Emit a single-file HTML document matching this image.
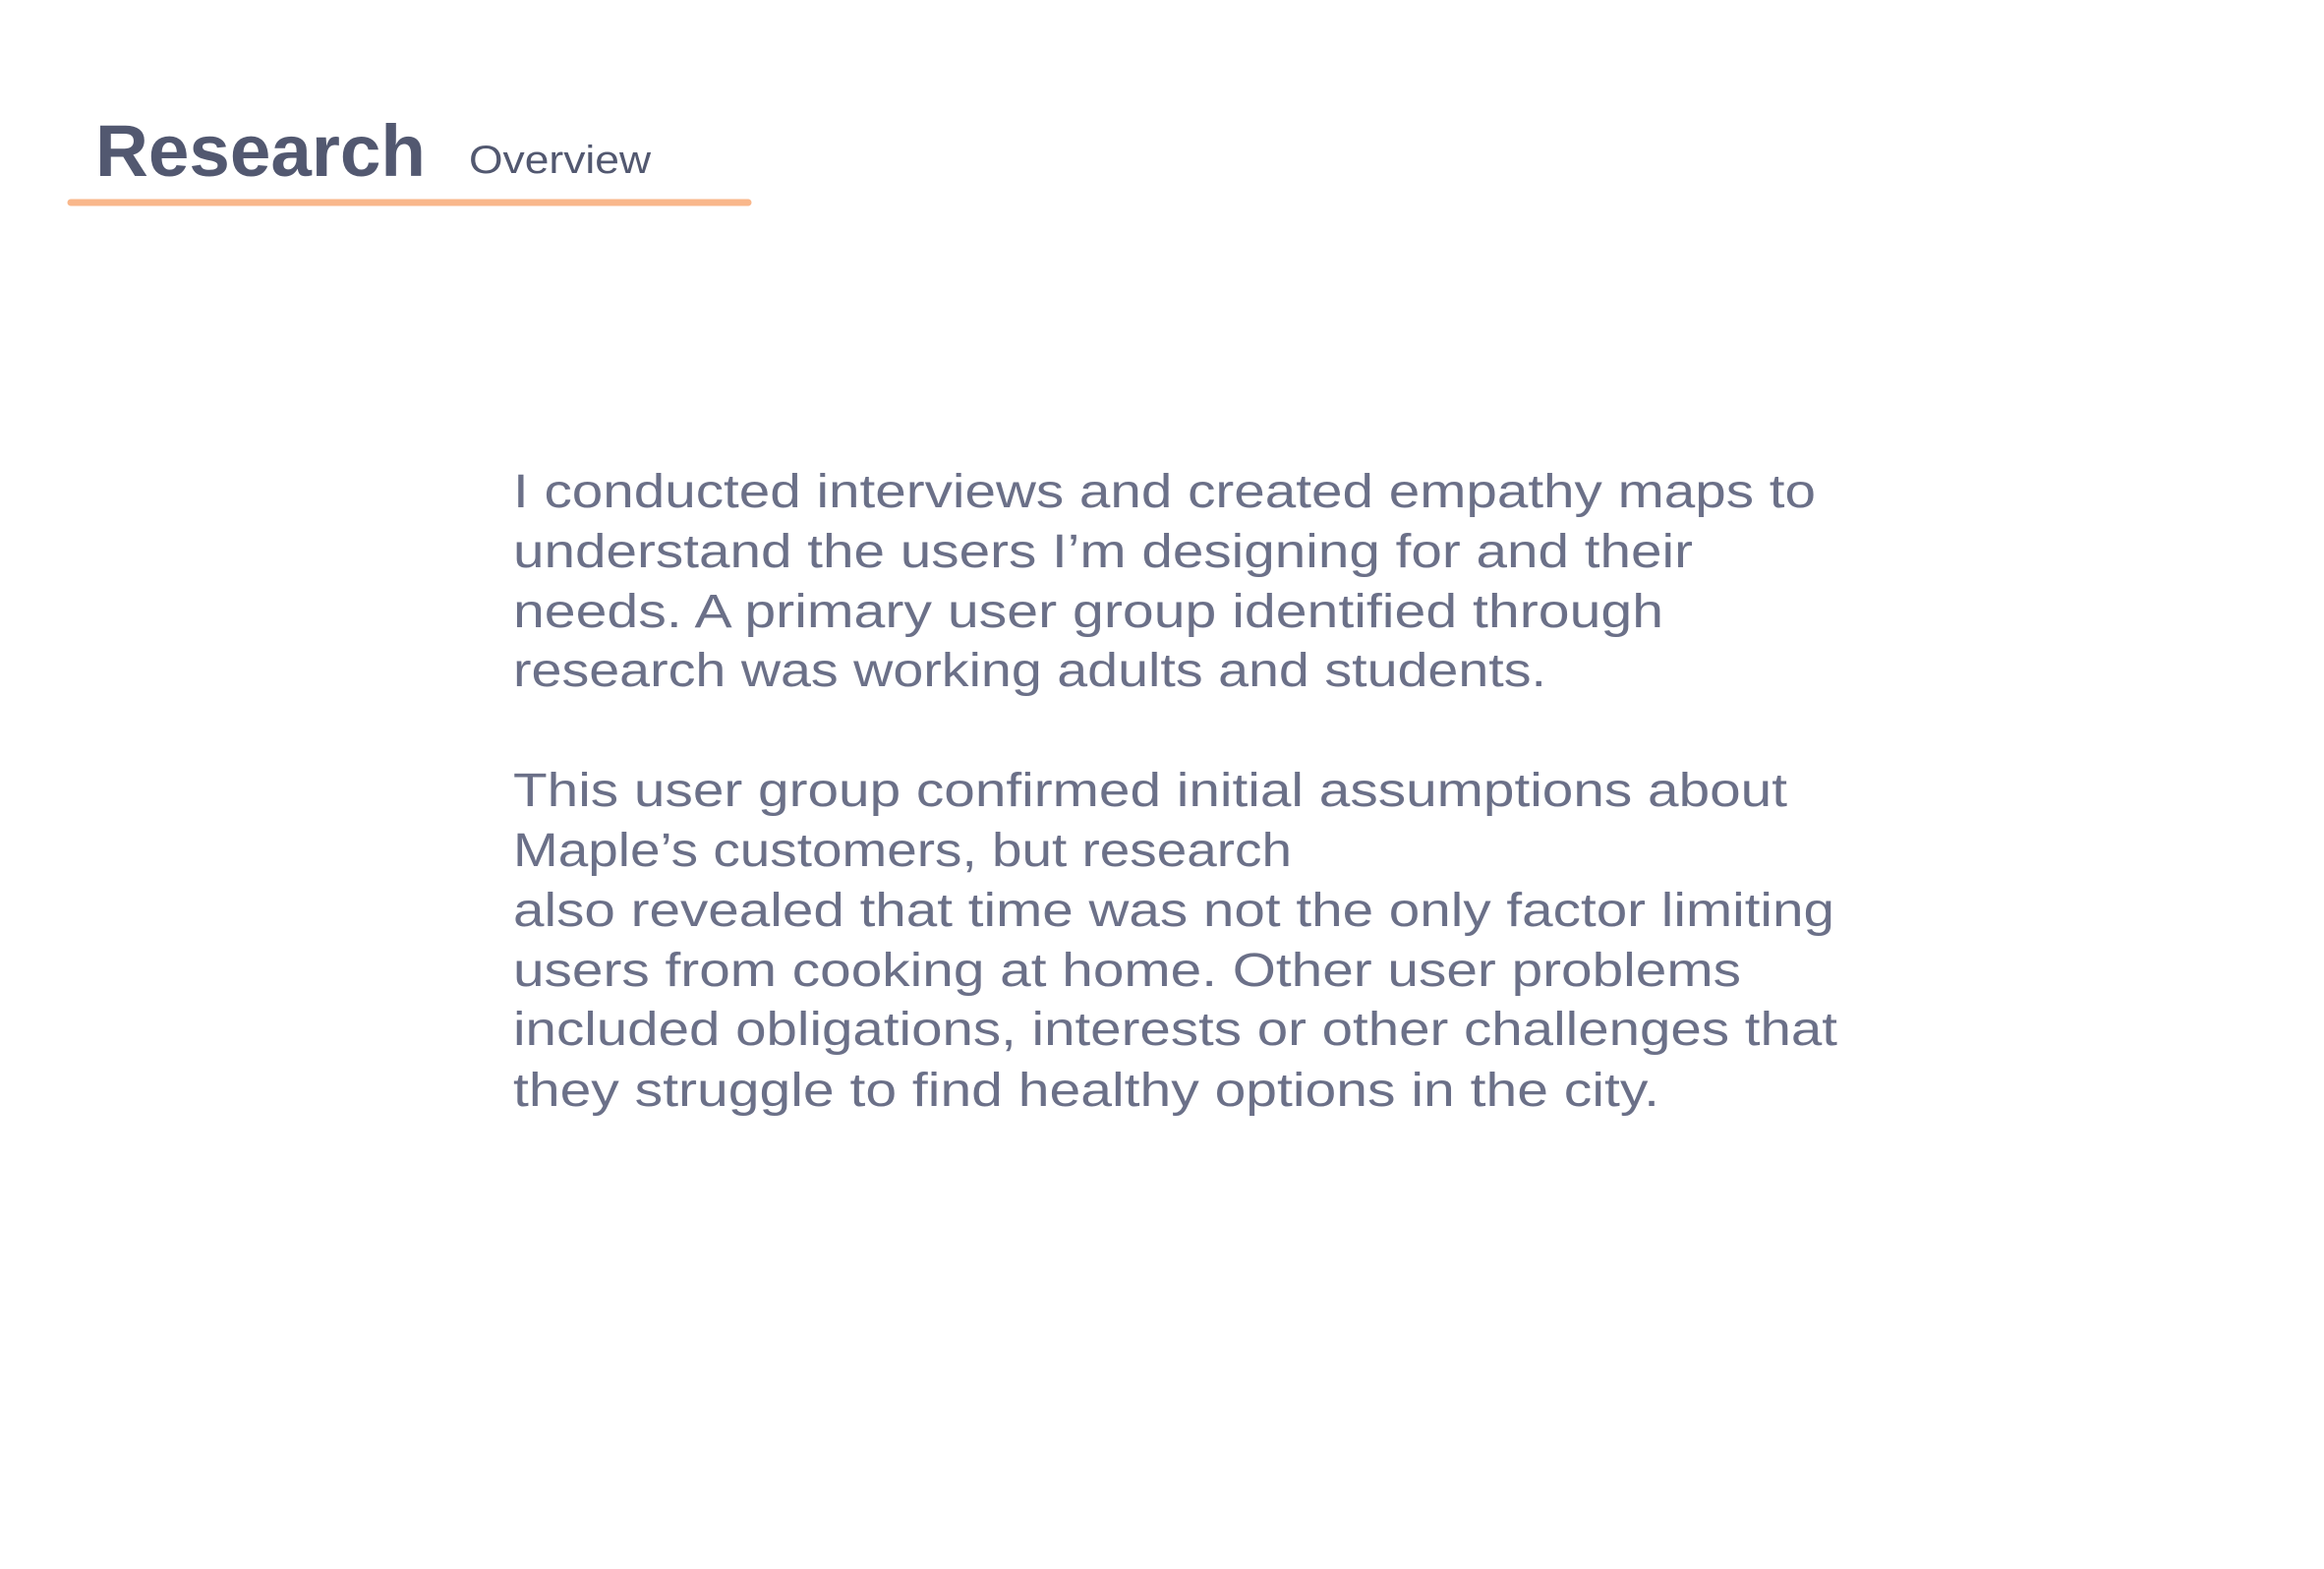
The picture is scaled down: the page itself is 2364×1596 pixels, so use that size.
<!DOCTYPE html>
<html><head><meta charset="utf-8"><style>
html,body{margin:0;padding:0;background:#fff;}
svg{display:block;}
</style></head><body>
<svg width="2364" height="1596" viewBox="0 0 2364 1596" xmlns="http://www.w3.org/2000/svg">
<rect width="2364" height="1596" fill="#ffffff"/>
<text x="97" y="179" font-family="Liberation Sans, sans-serif" font-weight="bold" font-size="74" fill="#525870" textLength="336" lengthAdjust="spacingAndGlyphs">Research</text>
<text x="477" y="176" font-family="Liberation Sans, sans-serif" font-size="40" fill="#525870" textLength="185" lengthAdjust="spacingAndGlyphs">Overview</text>
<line x1="72" y1="206" x2="761" y2="206" stroke="#f9b78b" stroke-width="7" stroke-linecap="round"/>
<g font-family="Liberation Sans, sans-serif" font-size="48" fill="#6b7088">
<text x="522" y="516" textLength="1325" lengthAdjust="spacingAndGlyphs">I conducted interviews and created empathy maps to</text>
<text x="522" y="577" textLength="1200" lengthAdjust="spacingAndGlyphs">understand the users I’m designing for and their</text>
<text x="522" y="638" textLength="1170" lengthAdjust="spacingAndGlyphs">needs. A primary user group identified through</text>
<text x="522" y="698" textLength="1051" lengthAdjust="spacingAndGlyphs">research was working adults and students.</text>
<text x="522" y="820" textLength="1296" lengthAdjust="spacingAndGlyphs">This user group confirmed initial assumptions about</text>
<text x="522" y="881" textLength="792" lengthAdjust="spacingAndGlyphs">Maple’s customers, but research</text>
<text x="522" y="942" textLength="1344" lengthAdjust="spacingAndGlyphs">also revealed that time was not the only factor limiting</text>
<text x="522" y="1003" textLength="1249" lengthAdjust="spacingAndGlyphs">users from cooking at home. Other user problems</text>
<text x="522" y="1063" textLength="1347" lengthAdjust="spacingAndGlyphs">included obligations, interests or other challenges that</text>
<text x="522" y="1125" textLength="1166" lengthAdjust="spacingAndGlyphs">they struggle to find healthy options in the city.</text>
</g>
</svg>
</body></html>
